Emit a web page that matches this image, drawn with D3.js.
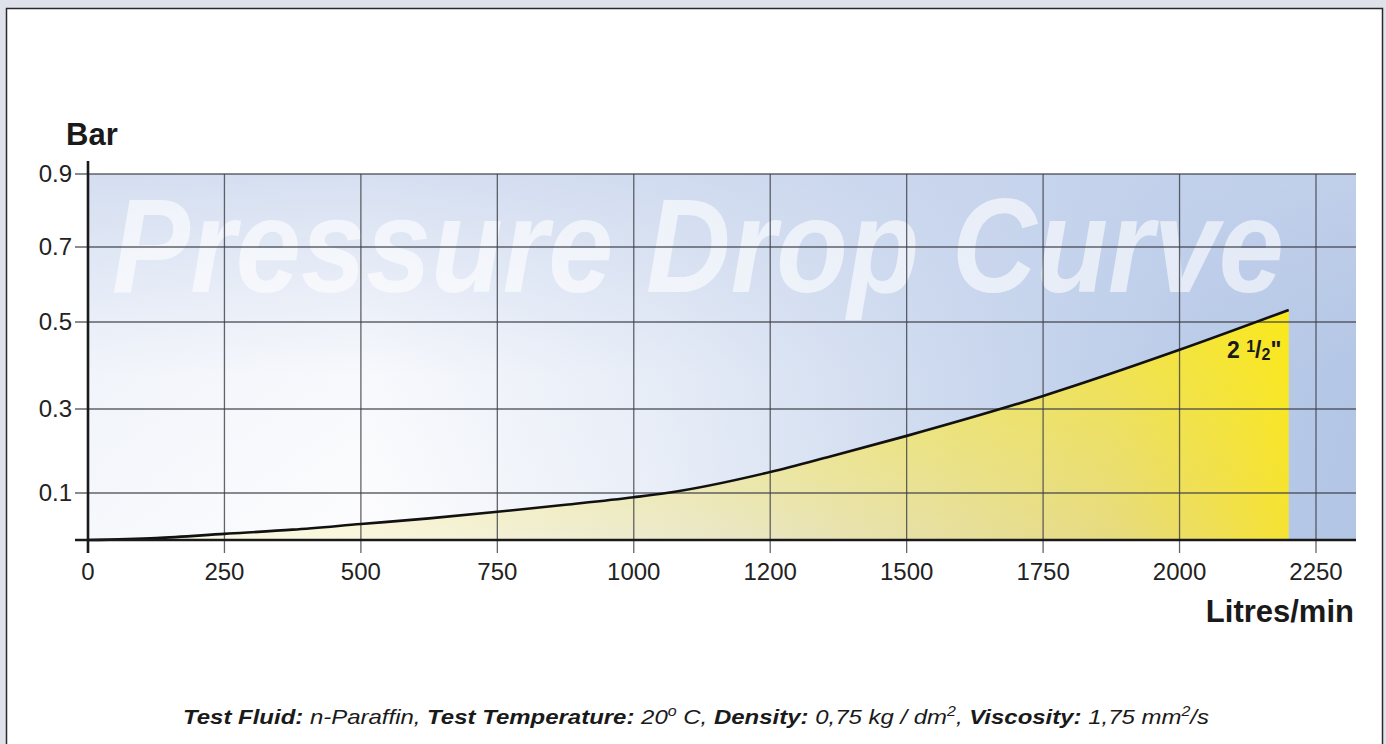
<!DOCTYPE html>
<html>
<head>
<meta charset="utf-8">
<script src="https://cdn.jsdelivr.net/npm/d3@7"></script>
<style>
  body { margin: 0; background: #dfe2ea; }
  svg { display: block; font-family: "Liberation Sans", Arial, sans-serif; }
</style>
</head>
<body>
<svg id="chart" width="1386" height="744"></svg>
<script>
// data
var flow     = [0, 125, 250, 375, 500, 625, 750, 875, 1000, 1060, 1250, 1360, 1500, 1750, 2000, 2200];
var pressure = [0, 0.004, 0.013, 0.022, 0.034, 0.046, 0.06, 0.075, 0.091, 0.1, 0.15, 0.187, 0.236, 0.33, 0.436, 0.532];
var xTicks = [0, 250, 500, 750, 1000, 1250, 1500, 1750, 2000, 2250];
var xTickLabels = ["0", "250", "500", "750", "1000", "1200", "1500", "1750", "2000", "2250"];
var yTicks = [0.1, 0.3, 0.5, 0.7, 0.9];
var yTickLabels = ["0.1", "0.3", "0.5", "0.7", "0.9"];

var svg = d3.select("#chart");

// white panel
svg.append("rect")
  .attr("x", 6.5).attr("y", 8.5).attr("width", 1376).attr("height", 760)
  .attr("fill", "#fff").attr("stroke", "#2a2a2e").attr("stroke-width", 1.5);

var pLeft = 88, pRight = 1356, pBottom = 540, pTop = 174;

var x = d3.scaleLinear()
  .domain([0, 2250 + 250 * 40 / 136.4])
  .range([pLeft, pRight]);

// y axis is not evenly spaced in the original
var y = d3.scaleLinear()
  .domain([0, 0.1, 0.3, 0.5, 0.7, 0.9])
  .range([pBottom, 493, 409, 322, 247, pTop]);

var defs = svg.append("defs");
var bgH = defs.append("linearGradient").attr("id", "bgH")
  .attr("x1", 0).attr("y1", 0).attr("x2", 1).attr("y2", 0);
bgH.append("stop").attr("offset", "0%").attr("stop-color", "#f6f8fc");
bgH.append("stop").attr("offset", "22%").attr("stop-color", "#fdfdfe");
bgH.append("stop").attr("offset", "45%").attr("stop-color", "#eaeff8");
bgH.append("stop").attr("offset", "70%").attr("stop-color", "#cbd8ee");
bgH.append("stop").attr("offset", "88%").attr("stop-color", "#b8cae8");
bgH.append("stop").attr("offset", "100%").attr("stop-color", "#b2c5e5");

var bgV = defs.append("linearGradient").attr("id", "bgV")
  .attr("x1", 0).attr("y1", 0).attr("x2", 0).attr("y2", 1);
bgV.append("stop").attr("offset", "0%").attr("stop-color", "#c6d3ec").attr("stop-opacity", 0.7);
bgV.append("stop").attr("offset", "55%").attr("stop-color", "#c6d3ec").attr("stop-opacity", 0.1);
bgV.append("stop").attr("offset", "100%").attr("stop-color", "#c6d3ec").attr("stop-opacity", 0);

var fillGrad = defs.append("linearGradient").attr("id", "fillG")
  .attr("x1", 0).attr("y1", 0).attr("x2", 1).attr("y2", 0);
fillGrad.append("stop").attr("offset", "0%").attr("stop-color", "#fffbe0").attr("stop-opacity", 0.6);
fillGrad.append("stop").attr("offset", "50%").attr("stop-color", "#ede6b8").attr("stop-opacity", 0.7);
fillGrad.append("stop").attr("offset", "85%").attr("stop-color", "#eedd70").attr("stop-opacity", 0.85);
fillGrad.append("stop").attr("offset", "100%").attr("stop-color", "#f6e234");

var fillV = defs.append("linearGradient").attr("id", "fillV")
  .attr("x1", 0).attr("y1", 0).attr("x2", 0).attr("y2", 1);
fillV.append("stop").attr("offset", "0%").attr("stop-color", "#fff000").attr("stop-opacity", 0.45);
fillV.append("stop").attr("offset", "100%").attr("stop-color", "#fff000").attr("stop-opacity", 0);

// plot background
svg.append("rect")
  .attr("x", pLeft).attr("y", pTop).attr("width", pRight - pLeft).attr("height", pBottom - pTop)
  .attr("fill", "url(#bgH)");
svg.append("rect")
  .attr("x", pLeft).attr("y", pTop).attr("width", pRight - pLeft).attr("height", pBottom - pTop)
  .attr("fill", "url(#bgV)");

// watermark
svg.append("text")
  .attr("x", 112).attr("y", 292)
  .attr("textLength", 1172).attr("lengthAdjust", "spacingAndGlyphs")
  .attr("font-size", 134).attr("font-weight", "bold").attr("font-style", "italic")
  .attr("fill", "#ffffff").attr("fill-opacity", 0.6)
  .text("Pressure Drop Curve");

var pts = flow.map(function(f, i) { return [f, pressure[i]]; });

var area = d3.area()
  .x(function(d) { return x(d[0]); })
  .y0(y(0))
  .y1(function(d) { return y(d[1]); })
  .curve(d3.curveMonotoneX);

svg.append("path").datum(pts).attr("d", area).attr("fill", "url(#fillG)");
svg.append("path").datum(pts).attr("d", area).attr("fill", "url(#fillV)");

// grid
var grid = svg.append("g").attr("stroke", "#3c3f46").attr("stroke-opacity", 0.8).attr("stroke-width", 1.3);
grid.selectAll("line.v").data(xTicks.slice(1)).enter().append("line")
  .attr("x1", function(d) { return x(d); }).attr("x2", function(d) { return x(d); })
  .attr("y1", pTop).attr("y2", pBottom + 13);
grid.selectAll("line.h").data(yTicks).enter().append("line")
  .attr("x1", pLeft - 13).attr("x2", pRight)
  .attr("y1", function(d) { return y(d); }).attr("y2", function(d) { return y(d); });

// curve
var line = d3.line()
  .x(function(d) { return x(d[0]); })
  .y(function(d) { return y(d[1]); })
  .curve(d3.curveMonotoneX);
svg.append("path").datum(pts).attr("d", line)
  .attr("fill", "none").attr("stroke", "#111").attr("stroke-width", 2.6)
  .attr("stroke-linejoin", "round");

// axes lines
svg.append("line").attr("x1", pLeft - 13).attr("x2", pRight).attr("y1", pBottom).attr("y2", pBottom)
  .attr("stroke", "#1a1a1a").attr("stroke-width", 2.6);
svg.append("line").attr("x1", pLeft).attr("x2", pLeft).attr("y1", 161).attr("y2", pBottom + 13)
  .attr("stroke", "#1a1a1a").attr("stroke-width", 2.6);

// tick labels
svg.append("g").selectAll("text").data(xTicks).enter().append("text")
  .attr("x", function(d) { return x(d); }).attr("y", 580)
  .attr("text-anchor", "middle").attr("font-size", 24).attr("fill", "#222")
  .text(function(d, i) { return xTickLabels[i]; });

svg.append("g").selectAll("text").data(yTicks).enter().append("text")
  .attr("x", 72).attr("y", function(d) { return y(d) + 8; })
  .attr("text-anchor", "end").attr("font-size", 24).attr("fill", "#222")
  .text(function(d, i) { return yTickLabels[i]; });

// axis titles
svg.append("text").attr("x", 66).attr("y", 145)
  .attr("font-size", 31).attr("font-weight", "bold").attr("fill", "#1a1a1a").text("Bar");
svg.append("text").attr("x", 1354).attr("y", 622).attr("text-anchor", "end")
  .attr("font-size", 31).attr("font-weight", "bold").attr("fill", "#1a1a1a").text("Litres/min");

// series label
var lab = svg.append("text").attr("x", 1227).attr("y", 358)
  .attr("font-size", 23).attr("font-weight", "bold").attr("fill", "#1a1a1a");
lab.append("tspan").text("2 ");
lab.append("tspan").attr("font-size", 16).attr("dy", -6).text("1");
lab.append("tspan").attr("font-size", 23).attr("dy", 6).text("/");
lab.append("tspan").attr("font-size", 16).attr("dy", 2).text("2");
lab.append("tspan").attr("font-size", 23).attr("dy", -2).text("\"");

// footer note
var foot = svg.append("text").attr("x", 183).attr("y", 724)
  .attr("textLength", 1026).attr("lengthAdjust", "spacingAndGlyphs")
  .attr("font-size", 21).attr("font-style", "italic").attr("fill", "#1a1a1a");
var parts = [
  ["b", "Test Fluid:"], ["n", " n-Paraffin, "], ["b", "Test Temperature:"], ["n", " 20"], ["s", "o"],
  ["n", " C, "], ["b", "Density:"], ["n", " 0,75 kg / dm"], ["s", "2"], ["n", ", "],
  ["b", "Viscosity:"], ["n", " 1,75 mm"], ["s", "2"], ["n", "/s"]
];
var prevSup = false;
parts.forEach(function(p) {
  var t = foot.append("tspan").text(p[1]);
  if (p[0] === "b") t.attr("font-weight", "bold");
  if (p[0] === "s") { t.attr("font-size", 14).attr("dy", -8); prevSup = true; }
  else if (prevSup) { t.attr("dy", 8); prevSup = false; }
});
</script>
</body>
</html>
